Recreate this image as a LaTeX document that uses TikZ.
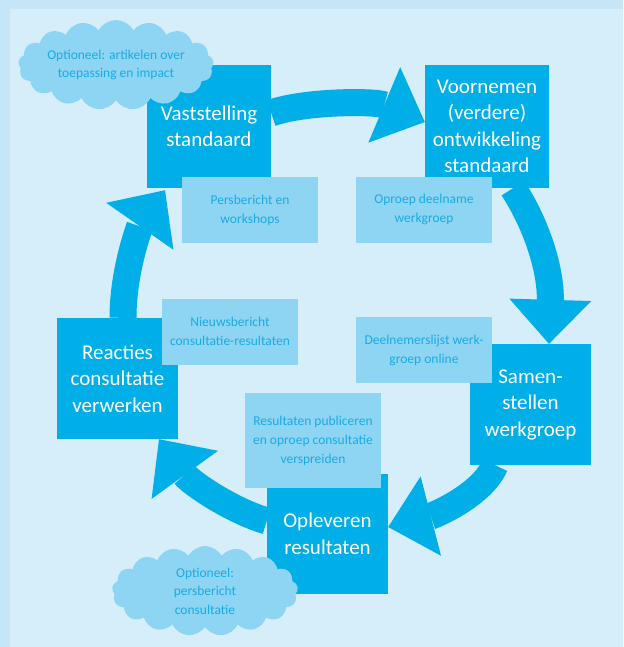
\documentclass[tikz,border=0pt]{standalone}
\usepackage{fontspec}
\setmainfont{Carlito}
\usetikzlibrary{arrows.meta,shapes.symbols,calc}
\definecolor{frameblue}{RGB}{198,230,247}
\definecolor{bgblue}{RGB}{214,238,250}
\definecolor{mainblue}{RGB}{0,174,232}
\definecolor{lightbox}{RGB}{141,213,243}
\definecolor{lighttext}{RGB}{26,170,228}
\pgfdeclarelayer{back}
\pgfsetlayers{back,main}
\begin{document}
\begin{tikzpicture}[x=1pt,y=-1pt,
 stage/.style={fill=mainblue, text=white, minimum width=122pt, minimum height=122pt, inner sep=0pt, align=center, font=\fontsize{21}{26.5}\selectfont},
 note/.style={fill=lightbox, text=lighttext, minimum width=136pt, minimum height=66pt, inner sep=0pt, align=center, font=\fontsize{13.5}{19}\selectfont},
 bubble/.style={cloud, cloud puffs=17, cloud puff arc=120, cloud ignores aspect, minimum width=186pt, minimum height=90pt, fill=lightbox, text=lighttext, inner sep=0pt, align=center, font=\fontsize{13.5}{18.5}\selectfont},
 flow/.style={draw=mainblue, line width=27pt, -{Triangle[length=44pt,width=82pt,line width=0pt]}}
]
\useasboundingbox (0,0) rectangle (623,647);
\begin{pgfonlayer}{back}
\fill[frameblue] (0,0) rectangle (623,647);
\fill[bgblue] (10,9) rectangle (623,647);
\end{pgfonlayer}

% main stages
\node[stage, minimum width=124pt, minimum height=123pt] (vast) at (209,126.5) {Vaststelling\\standaard};
\node[stage, minimum width=124pt, minimum height=123pt] (voor) at (487,126.5) {Voornemen\\(verdere)\\ontwikkeling\\standaard};
\node[stage, minimum width=121pt, minimum height=121pt] (same) at (530.5,404.5) {Samen-\\stellen\\werkgroep};
\node[stage, minimum width=121pt, minimum height=120pt] (ople) at (327.5,534) {Opleveren\\resultaten};
\node[stage, minimum width=121pt, minimum height=121pt] (reac) at (117.5,378.5) {Reacties\\consultatie\\verwerken};

% notes
\node[note] (pers) at (250,210) {Persbericht en\\workshops};
\node[note] (opro) at (424,209.5) {Oproep deelname\\werkgroep};
\node[note] (deel) at (424,350) {Deelnemerslijst werk-\\groep online};
\node[note] (nieu) at (230,331.5) {Nieuwsbericht\\consultatie-resultaten};
\node[note, minimum height=95pt] (resu) at (313,440.5) {Resultaten publiceren\\en oproep consultatie\\verspreiden};

% clouds
\node[bubble] (c1) at (116,65) {Optioneel: artikelen over\\toepassing en impact};
\node[bubble] (c2) at (205,591) {Optioneel:\\persbericht\\consultatie};

% arrows
\begin{pgfonlayer}{back}
\draw[flow] ($(vast.east)+(0,-13.5)$) .. controls (305,101) and (375,101) .. ($(voor.west)+(0,-4.5)$);
\draw[flow] ($(voor.south)+(26,0)$) .. controls (540,230) and (551,275) .. ($(same.north)+(18.5,0)$);
\draw[flow] ($(same.south)+(-35.5,0)$) .. controls (482,495) and (435,515) .. ($(ople.east)+(0,-7)$);
\draw[flow] ($(ople.west)+(0,-13)$) .. controls (230,510) and (190,482) .. ($(reac.south)+(41.5,0)$);
\draw[flow] ($(reac.north)+(5.5,0)$) .. controls (123,270) and (140,226) .. ($(vast.south)+(-44,2)$);
\end{pgfonlayer}
\end{tikzpicture}
\end{document}
